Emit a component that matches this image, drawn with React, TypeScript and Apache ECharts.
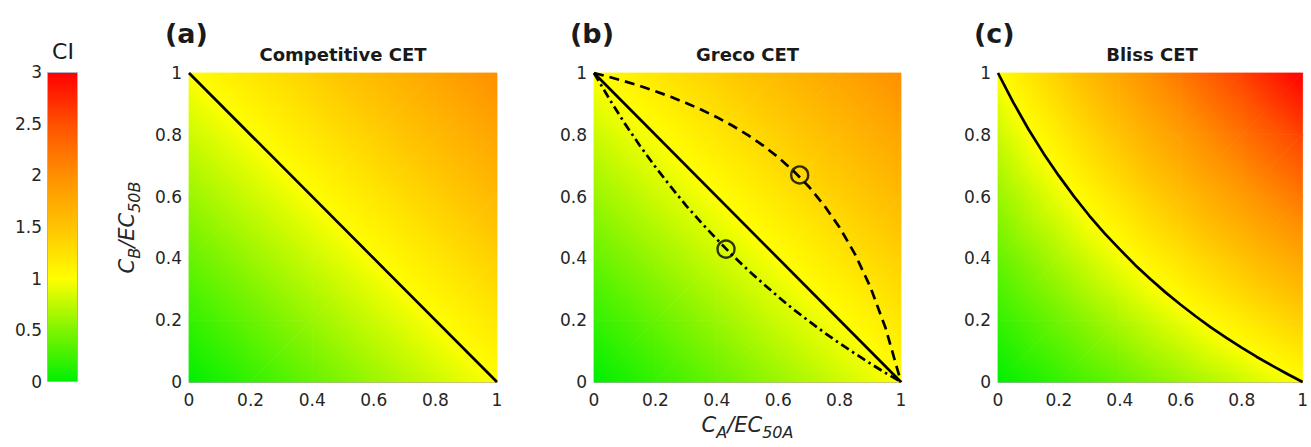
import React, { useEffect, useRef } from "react";
import * as echarts from "echarts";

// ---- Colour scale ----
const ciLevels = [0, 0.5, 1, 1.5, 2, 2.5, 3];
const ciColors = ["#00f000", "#80f400", "#ffff00", "#ffc400", "#ff9000", "#ff5000", "#ff0000"];
const ciTicks = [0, 0.5, 1, 1.5, 2, 2.5, 3];

// ---- CI field sampled on a grid (rows: C_B/EC50B, cols: C_A/EC50A) ----
const gridSteps = [0, 0.2, 0.4, 0.6, 0.8, 1];
const competitiveCI = [
  [0.0, 0.2, 0.4, 0.6, 0.8, 1.0],
  [0.2, 0.4, 0.6, 0.8, 1.0, 1.2],
  [0.4, 0.6, 0.8, 1.0, 1.2, 1.4],
  [0.6, 0.8, 1.0, 1.2, 1.4, 1.6],
  [0.8, 1.0, 1.2, 1.4, 1.6, 1.8],
  [1.0, 1.2, 1.4, 1.6, 1.8, 2.0],
];
const grecoCI = [
  [0.0, 0.2, 0.4, 0.6, 0.8, 1.0],
  [0.2, 0.4, 0.6, 0.8, 1.0, 1.2],
  [0.4, 0.6, 0.8, 1.0, 1.2, 1.4],
  [0.6, 0.8, 1.0, 1.2, 1.4, 1.6],
  [0.8, 1.0, 1.2, 1.4, 1.6, 1.8],
  [1.0, 1.2, 1.4, 1.6, 1.8, 2.0],
];
const blissCI = [
  [0.0, 0.2, 0.4, 0.6, 0.8, 1.0],
  [0.2, 0.44, 0.68, 0.92, 1.16, 1.4],
  [0.4, 0.68, 0.96, 1.24, 1.52, 1.8],
  [0.6, 0.92, 1.24, 1.56, 1.88, 2.2],
  [0.8, 1.16, 1.52, 1.88, 2.24, 2.6],
  [1.0, 1.4, 1.8, 2.2, 2.6, 3.0],
];

// ---- Isobole curves ----
const additiveX = [0, 1];
const additiveY = [1, 0];
const curveX = [0, 0.05, 0.1, 0.15, 0.2, 0.25, 0.3, 0.35, 0.4, 0.45, 0.5, 0.55, 0.6, 0.65, 0.7, 0.75, 0.8, 0.85, 0.9, 0.95, 1];
const antagonismY = [1, 0.987, 0.973, 0.958, 0.941, 0.923, 0.903, 0.881, 0.857, 0.83, 0.8, 0.766, 0.727, 0.683, 0.632, 0.571, 0.5, 0.414, 0.308, 0.174, 0];
const synergyY = [1, 0.916, 0.837, 0.764, 0.696, 0.632, 0.571, 0.515, 0.462, 0.411, 0.364, 0.319, 0.276, 0.235, 0.197, 0.16, 0.125, 0.092, 0.06, 0.029, 0];
const blissY = [1, 0.905, 0.818, 0.739, 0.667, 0.6, 0.538, 0.481, 0.429, 0.379, 0.333, 0.29, 0.25, 0.212, 0.176, 0.143, 0.111, 0.081, 0.053, 0.026, 0];
const markerX = [0.43, 0.67];
const markerY = [0.43, 0.67];

const panelTitles = ["Competitive CET", "Greco CET", "Bliss CET"];
const panelTags = ["(a)", "(b)", "(c)"];

const FONT = "'DejaVu Sans', 'Liberation Sans', Arial, sans-serif";
const INK = "#262626";

function hexToRgb(h: string) {
  const n = parseInt(h.slice(1), 16);
  return [(n >> 16) & 255, (n >> 8) & 255, n & 255];
}
function cmap(v: number) {
  const vv = Math.max(ciLevels[0], Math.min(ciLevels[ciLevels.length - 1], v));
  let i = 0;
  while (i < ciLevels.length - 2 && vv > ciLevels[i + 1]) i++;
  const t = (vv - ciLevels[i]) / (ciLevels[i + 1] - ciLevels[i]);
  const a = hexToRgb(ciColors[i]);
  const b = hexToRgb(ciColors[i + 1]);
  const c = a.map((x, k) => Math.round(x + (b[k] - x) * t));
  return `rgb(${c[0]},${c[1]},${c[2]})`;
}
function stopsBetween(v0: number, v1: number) {
  const stops: { offset: number; color: string }[] = [{ offset: 0, color: cmap(v0) }];
  ciLevels.forEach((s) => {
    if (s > v0 && s < v1) stops.push({ offset: (s - v0) / (v1 - v0), color: cmap(s) });
  });
  stops.push({ offset: 1, color: cmap(v1) });
  return stops;
}
// linear colour fill of a triangle whose corners carry CI values
function triFill(pts: number[][], vals: number[]) {
  const [a, b, c] = pts;
  const dx1 = b[0] - a[0], dy1 = b[1] - a[1], dx2 = c[0] - a[0], dy2 = c[1] - a[1];
  const D = dx1 * dy2 - dy1 * dx2;
  const dv1 = vals[1] - vals[0], dv2 = vals[2] - vals[0];
  const gx = (dv1 * dy2 - dy1 * dv2) / D;
  const gy = (dx1 * dv2 - dv1 * dx2) / D;
  const g2 = gx * gx + gy * gy;
  if (!isFinite(g2) || g2 < 1e-14) return cmap(vals[0]);
  let imin = 0, imax = 0;
  vals.forEach((v, i) => {
    if (v < vals[imin]) imin = i;
    if (v > vals[imax]) imax = i;
  });
  const vmin = vals[imin], vmax = vals[imax];
  const S = pts[imin];
  const k = (vmax - vmin) / g2;
  return new echarts.graphic.LinearGradient(S[0], S[1], S[0] + gx * k, S[1] + gy * k, stopsBetween(vmin, vmax), true);
}
function cellsOf(m: number[][]) {
  const out: number[][] = [];
  for (let j = 0; j < gridSteps.length - 1; j++) {
    for (let i = 0; i < gridSteps.length - 1; i++) {
      out.push([gridSteps[i], gridSteps[j], gridSteps[i + 1], gridSteps[j + 1], m[j][i], m[j][i + 1], m[j + 1][i], m[j + 1][i + 1]]);
    }
  }
  return out;
}
const zip = (xs: number[], ys: number[]) => xs.map((x, i) => [x, ys[i]]);

export default function App() {
  const ref = useRef<HTMLDivElement>(null);
  useEffect(() => {
    if (!ref.current) return;
    const chart = echarts.init(ref.current, null, { renderer: "svg" });

    const panels = [
      { left: 189, width: 308 },
      { left: 594, width: 307 },
      { left: 998, width: 308 },
    ];
    const top = 73;
    const height = 309;

    const grids: any[] = [{ left: 47, top: 72, width: 31, height: 310 }];
    panels.forEach((p) => grids.push({ left: p.left, top, width: p.width, height }));

    const labelStyle = { fontSize: 17, color: INK, fontFamily: FONT };
    const edge = { show: true, lineStyle: { color: "#b8a2c4", width: 1 } };

    const xAxes: any[] = [{ gridIndex: 0, type: "category", data: ["CI"], show: false }];
    const yAxes: any[] = [
      {
        gridIndex: 0,
        type: "value",
        min: 0,
        max: 3,
        interval: 0.5,
        axisLine: { show: false },
        axisTick: { show: false },
        splitLine: { show: false },
        axisLabel: { ...labelStyle, margin: 5, customValues: ciTicks },
      },
    ];
    const nameRich = {
      i: { fontSize: 21, fontStyle: "italic", lineHeight: 30, fontFamily: FONT, color: INK, verticalAlign: "middle" },
      s: { fontSize: 16, fontStyle: "italic", lineHeight: 15, fontFamily: FONT, color: INK, verticalAlign: "bottom" },
    };
    panels.forEach((p, k) => {
      xAxes.push({
        gridIndex: k + 1,
        type: "value",
        min: 0,
        max: 1,
        interval: 0.2,
        axisLine: edge,
        axisTick: { show: false },
        splitLine: { show: false },
        axisLabel: { ...labelStyle, margin: 9 },
        name: k === 1 ? "{i|C}{s|A}{i|/EC}{s|50A}" : "",
        nameLocation: "middle",
        nameGap: 28,
        nameTextStyle: { rich: nameRich },
      });
      yAxes.push({
        gridIndex: k + 1,
        type: "value",
        min: 0,
        max: 1,
        interval: 0.2,
        axisLine: edge,
        axisTick: { show: false },
        splitLine: { show: false },
        axisLabel: { ...labelStyle, margin: 7 },
        name: k === 0 ? "{i|C}{s|B}{i|/EC}{s|50B}" : "",
        nameLocation: "middle",
        nameRotate: 90,
        nameGap: 47,
        nameTextStyle: { rich: nameRich },
      });
    });

    const heatSeries = (m: number[][], idx: number) => ({
      type: "custom",
      xAxisIndex: idx,
      yAxisIndex: idx,
      z: 1,
      silent: true,
      encode: { x: [0, 2], y: [1, 3] },
      data: cellsOf(m),
      renderItem: (params: any, api: any) => {
        const p00 = api.coord([api.value(0), api.value(1)]);
        const p10 = api.coord([api.value(2), api.value(1)]);
        const p01 = api.coord([api.value(0), api.value(3)]);
        const p11 = api.coord([api.value(2), api.value(3)]);
        const v00 = api.value(4), v10 = api.value(5), v01 = api.value(6), v11 = api.value(7);
        const f1 = triFill([p00, p10, p11], [v00, v10, v11]);
        const f2 = triFill([p00, p11, p01], [v00, v11, v01]);
        return {
          type: "group",
          children: [
            { type: "polygon", shape: { points: [p00, p10, p11] }, style: { fill: f1, stroke: f1, lineWidth: 0.8 } },
            { type: "polygon", shape: { points: [p00, p11, p01] }, style: { fill: f2, stroke: f2, lineWidth: 0.8 } },
          ],
        };
      },
    });

    const line = (xs: number[], ys: number[], idx: number, type: any) => ({
      type: "line",
      xAxisIndex: idx,
      yAxisIndex: idx,
      data: zip(xs, ys),
      showSymbol: false,
      symbol: "none",
      smooth: false,
      clip: false,
      z: 3,
      lineStyle: { color: "#000", width: 2.7, type, join: "round" },
    });

    const series: any[] = [
      {
        type: "bar",
        xAxisIndex: 0,
        yAxisIndex: 0,
        data: [3],
        barWidth: "100%",
        silent: true,
        itemStyle: {
          borderColor: "#b4acc4",
          borderWidth: 1,
          color: new echarts.graphic.LinearGradient(
            0,
            1,
            0,
            0,
            ciLevels.map((v, i) => ({ offset: v / 3, color: ciColors[i] }))
          ),
        },
      },
      heatSeries(competitiveCI, 1),
      heatSeries(grecoCI, 2),
      heatSeries(blissCI, 3),
      line(additiveX, additiveY, 1, "solid"),
      line(additiveX, additiveY, 2, "solid"),
      line(curveX, antagonismY, 2, [10, 6]),
      line(curveX, synergyY, 2, [9, 4, 2.5, 4]),
      line(curveX, blissY, 3, "solid"),
      {
        type: "scatter",
        xAxisIndex: 2,
        yAxisIndex: 2,
        data: zip(markerX, markerY),
        symbol: "circle",
        symbolSize: 17,
        z: 4,
        itemStyle: { color: "rgba(0,0,0,0)", borderColor: "#000", borderWidth: 2.4 },
      },
    ];

    const txt = (x: number, y: number, text: string, font: string, align: string) => ({
      type: "text",
      x,
      y,
      style: { text, font, fill: "#1a1a1a", align, verticalAlign: "middle", textAlign: align, textVerticalAlign: "middle" },
    });
    const graphics: any[] = [txt(63, 51, "CI", `22px ${FONT}`, "center")];
    panels.forEach((p, k) => {
      graphics.push(txt(p.left + p.width / 2, 54, panelTitles[k], `bold 18px ${FONT}`, "center"));
      graphics.push(txt(p.left - 24, 33, panelTags[k], `bold 27px ${FONT}`, "left"));
    });

    chart.setOption({
      animation: false,
      backgroundColor: "#ffffff",
      grid: grids,
      xAxis: xAxes,
      yAxis: yAxes,
      series,
      graphic: graphics,
    });
    return () => chart.dispose();
  }, []);
  return <div ref={ref} style={{ position: "fixed", left: 0, top: 0, width: 1311, height: 447 }} />;
}
